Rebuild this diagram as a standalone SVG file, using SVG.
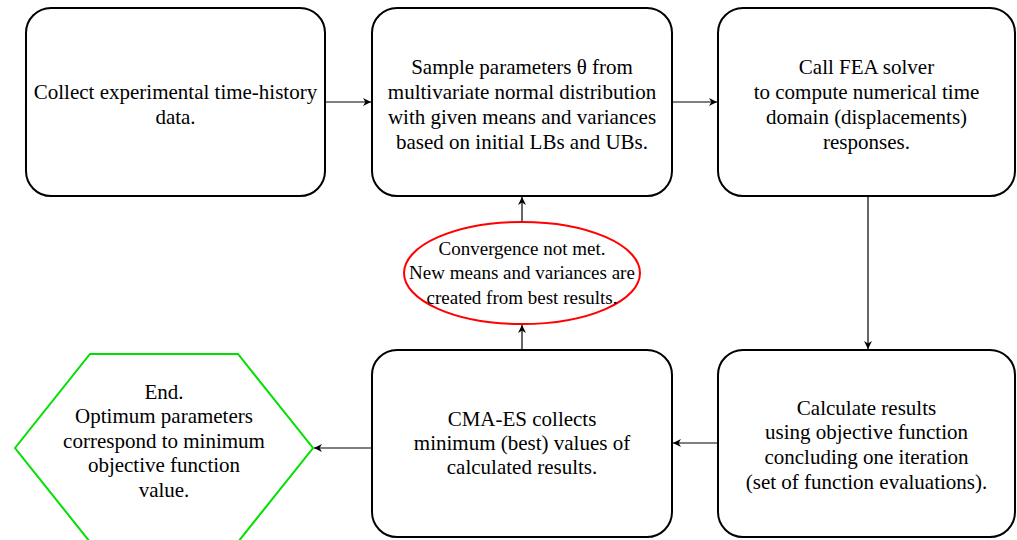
<svg xmlns="http://www.w3.org/2000/svg" width="1017" height="540" viewBox="0 0 1017 540" font-family="Liberation Serif">
<defs>
<style>
.box{fill:#fff;stroke:#000;stroke-width:2}
.t{font-size:21px;fill:#000;text-anchor:middle;dominant-baseline:central}
.c{stroke:#000;stroke-width:1.2;fill:none;marker-end:url(#ah)}
</style>
<marker id="ah" viewBox="0 0 10 10" refX="10" refY="5" markerWidth="8" markerHeight="8" markerUnits="userSpaceOnUse" orient="auto"><path d="M0,0 L10,5 L0,10 L3,5 Z" fill="#000"/></marker>
</defs>
<rect width="1017" height="540" fill="#fff"/>
<g id="connectors">
<line class="c" x1="325" y1="102" x2="371" y2="102"/>
<line class="c" x1="672" y1="102" x2="717" y2="102"/>
<line class="c" x1="868" y1="196" x2="868" y2="349"/>
<line class="c" x1="718" y1="443" x2="673" y2="443"/>
<line class="c" x1="372" y1="448" x2="314" y2="448"/>
<line class="c" x1="522" y1="350" x2="522" y2="325"/>
<line class="c" x1="522" y1="222" x2="522" y2="197"/>
</g>
<g id="n1" font-family="Liberation Serif"><rect class="box" x="26" y="8" width="299" height="188" rx="25"/>
<text class="t" font-family="Liberation Serif"><tspan x="175.5" y="92">Collect experimental time-history</tspan><tspan x="175.5" y="117">data.</tspan></text></g>
<g id="n2" font-family="Liberation Serif"><rect class="box" x="372" y="8" width="300" height="188" rx="25"/>
<text class="t" font-family="Liberation Serif"><tspan x="522" y="67">Sample parameters &#952; from</tspan><tspan x="522" y="92">multivariate normal distribution</tspan><tspan x="522" y="117">with given means and variances</tspan><tspan x="522" y="142">based on initial LBs and UBs.</tspan></text></g>
<g id="n3" font-family="Liberation Serif"><rect class="box" x="718" y="8" width="297" height="188" rx="25"/>
<text class="t" font-family="Liberation Serif"><tspan x="866.5" y="67">Call FEA solver</tspan><tspan x="866.5" y="92">to compute numerical time</tspan><tspan x="866.5" y="117">domain (displacements)</tspan><tspan x="866.5" y="142">responses.</tspan></text></g>
<g id="n4" font-family="Liberation Serif"><rect class="box" x="372" y="350" width="300" height="187" rx="25"/>
<text class="t" font-family="Liberation Serif"><tspan x="522" y="419">CMA-ES collects</tspan><tspan x="522" y="443">minimum (best) values of</tspan><tspan x="522" y="467">calculated results.</tspan></text></g>
<g id="n5" font-family="Liberation Serif"><rect class="box" x="718" y="350" width="297" height="187" rx="25"/>
<text class="t" font-family="Liberation Serif"><tspan x="866.5" y="408">Calculate results</tspan><tspan x="866.5" y="432">using objective function</tspan><tspan x="866.5" y="457">concluding one iteration</tspan><tspan x="866.5" y="482">(set of function evaluations).</tspan></text></g>
<g id="n6" font-family="Liberation Serif"><polygon points="15,448 90,354 238,354 313,448 238,542 90,542" fill="#fff" stroke="#00e000" stroke-width="2"/>
<text class="t" font-family="Liberation Serif"><tspan x="164" y="392">End.</tspan><tspan x="164" y="416">Optimum parameters</tspan><tspan x="164" y="441">correspond to minimum</tspan><tspan x="164" y="465">objective function</tspan><tspan x="164" y="490">value.</tspan></text></g>
<g id="n7" font-family="Liberation Serif"><ellipse cx="522" cy="273" rx="118" ry="51" fill="#fff" stroke="#f00" stroke-width="2"/>
<text class="t" font-family="Liberation Serif" style="font-size:19px"><tspan x="522" y="248">Convergence not met.</tspan><tspan x="522" y="272">New means and variances are</tspan><tspan x="522" y="297">created from best results.</tspan></text></g>
</svg>
